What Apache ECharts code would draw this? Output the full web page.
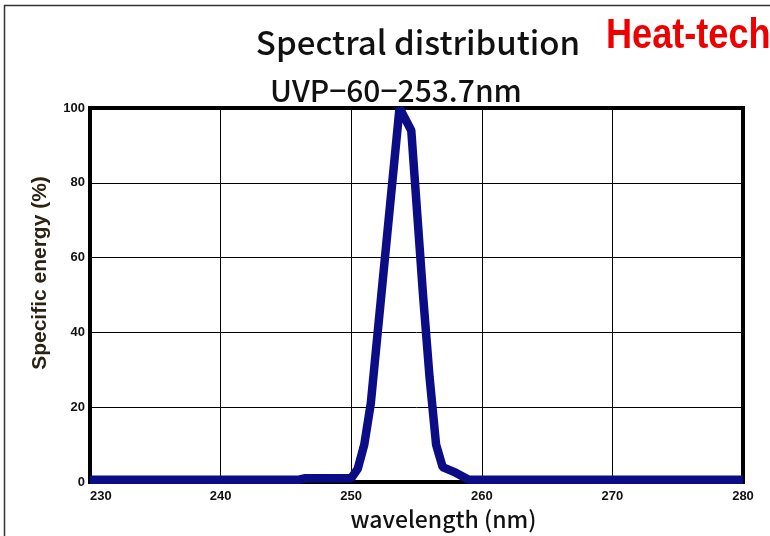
<!DOCTYPE html>
<html>
<head>
<meta charset="utf-8">
<script src="https://cdn.jsdelivr.net/npm/echarts@6/dist/echarts.min.js"></script>
<style>
html,body{margin:0;padding:0;background:#fff;}
#chart{width:770px;height:536px;}
</style>
</head>
<body>
<div id="chart"></div>
<script>
var wavelength = [230, 246, 246.5, 250, 250.5, 251, 251.5, 252, 253.7, 254.6, 255.5, 256, 256.5, 257, 258, 259, 260, 280];
var energy     = [0.6, 0.6, 1.0, 1.0, 3.5, 10, 21, 39, 100, 94, 50, 28, 10, 4, 2.5, 0.6, 0.6, 0.6];
var xTicks = [230, 240, 250, 260, 270, 280];
var yTicks = [0, 20, 40, 60, 80, 100];
var titleText = 'Spectral distribution';
var subtitleText = 'UVP\u221260\u2212253.7nm';
var brandText = 'Heat-tech';
var xName = 'wavelength (nm)';
var yName = 'Specific energy (%)';

var points = wavelength.map(function (w, i) { return [w, energy[i]]; });

var chart = echarts.init(document.getElementById('chart'), null, {renderer: 'canvas'});
chart.setOption({
  backgroundColor: '#fff',
  animation: false,
  graphic: [{
    type: 'rect',
    shape: {x: 4.5, y: 5.5, width: 800, height: 600},
    style: {fill: null, stroke: '#333', lineWidth: 1.5},
    silent: true, z: 100
  }, {
    type: 'text',
    x: 606, y: 57, scaleX: 0.86,
    style: {text: brandText, fontFamily: 'Liberation Sans', fontWeight: 'bold', fontSize: 42,
            fill: '#ee0000', verticalAlign: 'bottom'},
    silent: true, z: 100
  }],
  title: [{
    text: titleText,
    left: 413, top: 21, textAlign: 'center',
    textStyle: {fontFamily: 'Noto Sans CJK JP', fontWeight: 500, fontSize: 33, color: '#111'}
  }, {
    text: subtitleText,
    left: 391, top: 71, textAlign: 'center',
    textStyle: {fontFamily: 'Noto Sans CJK JP', fontWeight: 500, fontSize: 30, color: '#111'}
  }],
  grid: {left: 90, right: 27, top: 108, bottom: 48, show: true, borderColor: '#000', borderWidth: 4},
  xAxis: {
    type: 'value', min: xTicks[0], max: xTicks[xTicks.length - 1], interval: 10,
    name: xName, nameLocation: 'middle', nameGap: 26,
    nameTextStyle: {fontFamily: 'Noto Sans CJK JP', fontWeight: 500, fontSize: 23, color: '#111', padding: [0, 0, 0, 54]},
    axisLine: {show: true, lineStyle: {color: '#000', width: 4}},
    axisTick: {show: false},
    axisLabel: {fontFamily: 'Liberation Sans', fontWeight: 'bold', fontSize: 13, color: '#111', margin: 8, alignMinLabel: 'left'},
    splitLine: {show: true, lineStyle: {color: '#000', width: 1}}
  },
  yAxis: {
    type: 'value', min: yTicks[0], max: yTicks[yTicks.length - 1], interval: 20,
    name: yName, nameLocation: 'middle', nameGap: 39,
    nameTextStyle: {fontFamily: 'Liberation Sans', fontWeight: 'bold', fontSize: 21, color: '#2b2214', padding: [0, 0, 0, 44]},
    axisLine: {show: true, lineStyle: {color: '#000', width: 4}},
    axisTick: {show: false},
    axisLabel: {fontFamily: 'Liberation Sans', fontWeight: 'bold', fontSize: 13, color: '#111', margin: 5, verticalAlign: 'middle', padding: [0, 0, 6, 0]},
    splitLine: {show: true, lineStyle: {color: '#000', width: 1}}
  },
  series: [{
    type: 'line',
    data: points,
    showSymbol: false,
    clip: false,
    lineStyle: {color: '#0c0c86', width: 8.5},
    z: 3
  }]
});
</script>
</body>
</html>
